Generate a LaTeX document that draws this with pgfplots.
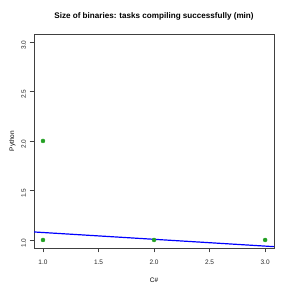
\documentclass[border=0pt]{standalone}
\usepackage{pgfplots}
\pgfplotsset{compat=1.18}
\usepackage{fontspec}
\setmainfont{Liberation Sans}
\definecolor{ptgreen}{HTML}{22A022}
\begin{document}
\begin{tikzpicture}[x=1pt,y=1pt]
\useasboundingbox (0,0) rectangle (291,291);
\begin{axis}[
  at={(34pt,43pt)}, anchor=south west,
  scale only axis, width=240pt, height=214pt,
  xmin=0.919, xmax=3.08, ymin=0.919, ymax=3.08,
  xtick={1,1.5,2,2.5,3}, ytick={1,1.5,2,2.5,3},
  xticklabels={1.0,1.5,2.0,2.5,3.0},
  yticklabels={1.0,1.5,2.0,2.5,3.0},
  axis line style={black!75, line width=0.5pt},
  tick style={black!75, line width=0.5pt},
  tick align=outside, major tick length=4.5pt,
  xtick pos=bottom, ytick pos=left,
  tick label style={font=\fontsize{6.5}{7.5}\selectfont, text=black!85},
  yticklabel style={rotate=90, anchor=south},
  every x tick label/.append style={yshift=-4pt},
  every y tick label/.append style={xshift=-3pt},
  /pgf/number format/assume math mode=true,
  title={\bfseries Size of binaries: tasks compiling successfully (min)},
  title style={font=\fontsize{8.1}{9}\selectfont, yshift=4pt},
  xlabel={C\#}, ylabel={Python},
  label style={font=\fontsize{6.5}{7.5}\selectfont},
  xlabel style={yshift=-6pt},
  ylabel style={yshift=-1pt},
  clip=true,
]
\addplot[only marks, mark=*, mark size=2pt, color=ptgreen] coordinates {(1,1) (1,2) (2,1) (3,1)};
\addplot[blue, line width=1.2pt] coordinates {(0.919,1.081) (3.09,0.932)};
\end{axis}
\end{tikzpicture}
\end{document}
